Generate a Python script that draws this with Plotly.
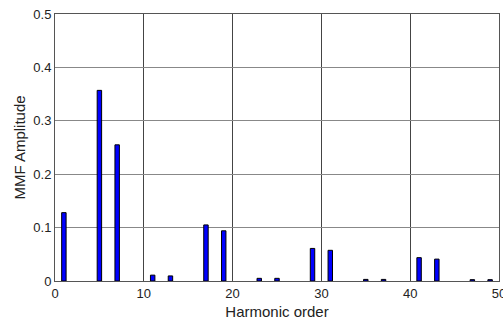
import plotly.graph_objects as go

harmonics = [1, 5, 7, 11, 13, 17, 19, 23, 25, 29, 31, 35, 37, 41, 43, 47, 49]
amplitude = [0.128, 0.357, 0.255, 0.011, 0.0095, 0.105, 0.094, 0.005, 0.005,
             0.061, 0.0575, 0.003, 0.003, 0.0437, 0.041, 0.0025, 0.0025]
x_ticks = [0, 10, 20, 30, 40, 50]
y_ticks = [0, 0.1, 0.2, 0.3, 0.4, 0.5]

fig = go.Figure(go.Bar(
    x=harmonics, y=amplitude, width=0.5,
    marker=dict(color="#0000ff", line=dict(color="black", width=1)),
))

font = dict(family="Liberation Sans, Arial, sans-serif", size=12.5, color="#222")
fig.update_layout(
    width=503, height=321,
    margin=dict(l=55, r=4, t=14, b=40),
    paper_bgcolor="white", plot_bgcolor="white",
    font=font, showlegend=False,
    xaxis=dict(range=[0, 50], tickvals=x_ticks, ticktext=[str(v) for v in x_ticks],
               showgrid=True, gridcolor="#444", gridwidth=1,
               showline=True, linecolor="#555", mirror=True, ticks="",
               ticklabeloverflow="allow", tickfont=dict(size=13), automargin=False,
               zeroline=False, title=dict(text="Harmonic order", standoff=6)),
    yaxis=dict(range=[0, 0.5], tickvals=y_ticks, ticktext=["0", "0.1", "0.2", "0.3", "0.4", "0.5"],
               showgrid=True, gridcolor="#888", gridwidth=1, tickfont=dict(size=13),
               showline=True, linecolor="#555", mirror=True, ticks="", automargin=False,
               zeroline=False, title=dict(text="MMF Amplitude", standoff=4)),
)
fig.write_html("out.html")
